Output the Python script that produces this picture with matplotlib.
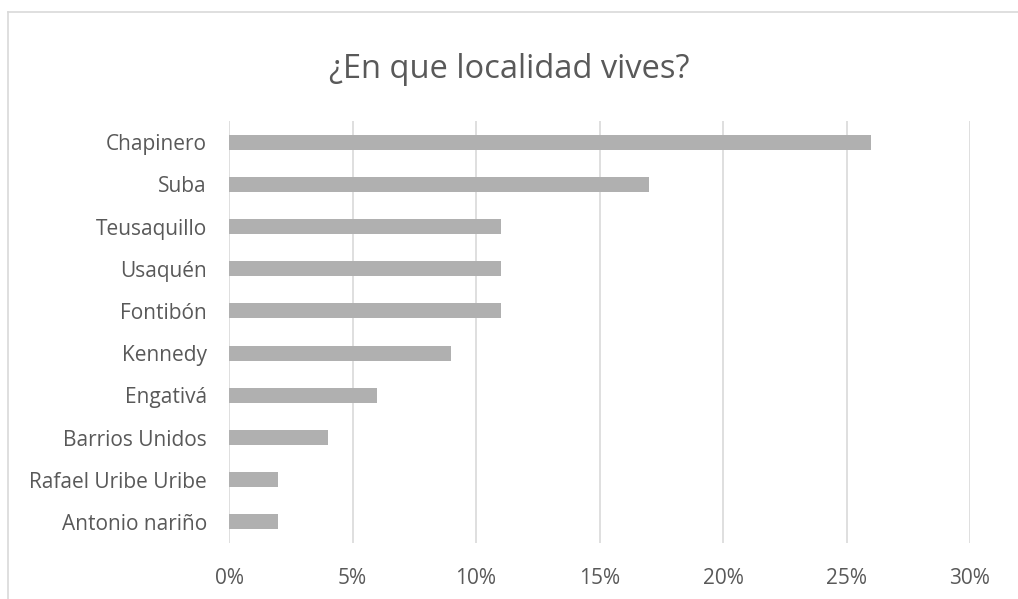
import matplotlib
matplotlib.use("Agg")
import matplotlib.pyplot as plt
from matplotlib.lines import Line2D
from matplotlib.ticker import FuncFormatter

categories = ["Chapinero", "Suba", "Teusaquillo", "Usaquén", "Fontibón",
              "Kennedy", "Engativá", "Barrios Unidos", "Rafael Uribe Uribe",
              "Antonio nariño"]
values = [26, 17, 11, 11, 11, 9, 6, 4, 2, 2]
xticks = [0, 5, 10, 15, 20, 25, 30]
title = "¿En que localidad vives?"

plt.rcParams['font.family'] = ['Open Sans', 'DejaVu Sans']
text_color = "#595959"

fig = plt.figure(figsize=(10.18, 5.99), dpi=100)
fig.patch.set_facecolor("white")
ax = fig.add_axes([229/1018, 1 - 543/599, (970-229)/1018, (543-121)/599])

y = list(range(len(categories)))
ax.barh(y, values, height=0.36, color="#B0B0B0", zorder=3)
ax.set_ylim(len(categories) - 0.5, -0.5)
ax.set_xlim(0, 30)
ax.set_xticks(xticks)
ax.xaxis.set_major_formatter(FuncFormatter(lambda v, p: f"{v:.0f}%"))
ax.set_yticks(y)
ax.set_yticklabels(categories)
ax.grid(axis="x", color="#D9D9D9", linewidth=1.2, zorder=0)
for s in ax.spines.values():
    s.set_visible(False)
ax.tick_params(axis="both", length=0, labelsize=15, colors=text_color)
ax.tick_params(axis="x", pad=18)
ax.tick_params(axis="y", pad=16)

fig.text(0.5, 1 - 78/599, title, ha="center", va="baseline",
         fontsize=23.5, color=text_color)

# chart area border (left and top visible)
fig.add_artist(Line2D([8/1018, 8/1018], [0, 1 - 12/599], transform=fig.transFigure,
                      color="#D9D9D9", linewidth=1.2))
fig.add_artist(Line2D([8/1018, 1], [1 - 12/599, 1 - 12/599], transform=fig.transFigure,
                      color="#D9D9D9", linewidth=1.2))

fig.savefig("out.png", dpi=100)
